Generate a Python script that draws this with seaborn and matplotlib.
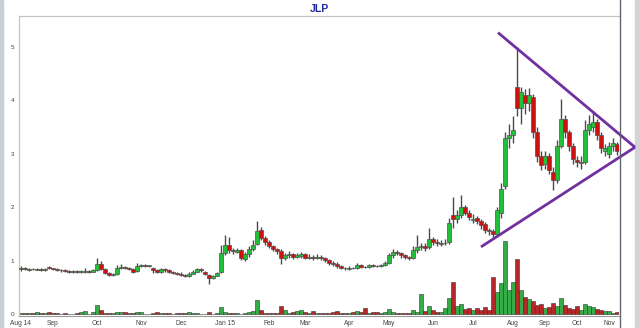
import numpy as np
import pandas as pd
import matplotlib
matplotlib.use("Agg")
import matplotlib.pyplot as plt
import seaborn as sns
from matplotlib.lines import Line2D
from matplotlib.patches import Rectangle

# ---------------- data ----------------
title = "JLP"
month_labels = ["Aug 14", "Sep", "Oct", "Nov", "Dec", "Jan 15", "Feb", "Mar",
                "Apr", "May", "Jun", "Jul", "Aug", "Sep", "Oct", "Nov"]
month_start = [0, 8, 19, 30, 40, 51, 62, 71, 82, 92, 103, 113, 123, 131, 139, 147]

opens = [
    0.84, 0.87, 0.83, 0.85, 0.83, 0.85, 0.83, 0.89, 0.86, 0.84,
    0.83, 0.82, 0.81, 0.79, 0.80, 0.79, 0.79, 0.81, 0.80, 0.83,
    0.95, 0.84, 0.77, 0.74, 0.76, 0.86, 0.89, 0.86, 0.84, 0.81,
    0.90, 0.92, 0.91, 0.86, 0.82, 0.80, 0.84, 0.82, 0.79, 0.77,
    0.76, 0.74, 0.72, 0.76, 0.80, 0.84, 0.80, 0.74, 0.68, 0.72,
    0.80, 1.15, 1.30, 1.20, 1.17, 1.20, 1.04, 1.12, 1.22, 1.32,
    1.58, 1.42, 1.35, 1.28, 1.22, 1.18, 1.05, 1.10, 1.12, 1.08,
    1.09, 1.12, 1.06, 1.08, 1.05, 1.08, 1.05, 1.02, 0.96, 0.95,
    0.90, 0.87, 0.85, 0.87, 0.86, 0.92, 0.89, 0.88, 0.92, 0.91,
    0.90, 0.92, 0.96, 1.10, 1.17, 1.14, 1.10, 1.07, 1.05, 1.20,
    1.25, 1.28, 1.25, 1.40, 1.36, 1.31, 1.33, 1.36, 1.85, 1.78,
    1.85, 2.00, 1.90, 1.76, 1.80, 1.75, 1.68, 1.57, 1.55, 1.50,
    1.90, 2.40, 3.30, 3.35, 4.25, 3.85, 4.10, 3.95, 4.05, 3.40,
    2.95, 2.80, 2.95, 2.65, 2.50, 3.15, 3.65, 3.40, 3.15, 2.88,
    2.82, 2.85, 3.45, 3.50, 3.60, 3.35, 3.05, 3.00, 3.15, 3.18,
]
closes = [
    0.86, 0.84, 0.85, 0.84, 0.85, 0.83, 0.84, 0.86, 0.84, 0.83,
    0.82, 0.81, 0.80, 0.80, 0.79, 0.80, 0.81, 0.80, 0.82, 0.95,
    0.85, 0.78, 0.74, 0.75, 0.86, 0.88, 0.86, 0.85, 0.80, 0.90,
    0.92, 0.91, 0.92, 0.82, 0.80, 0.84, 0.83, 0.80, 0.78, 0.76,
    0.74, 0.72, 0.76, 0.80, 0.84, 0.82, 0.75, 0.68, 0.72, 0.78,
    1.15, 1.30, 1.20, 1.18, 1.20, 1.05, 1.12, 1.22, 1.30, 1.55,
    1.42, 1.35, 1.28, 1.22, 1.18, 1.05, 1.10, 1.12, 1.08, 1.10,
    1.12, 1.06, 1.08, 1.05, 1.07, 1.05, 1.02, 0.96, 0.94, 0.90,
    0.86, 0.86, 0.87, 0.86, 0.92, 0.89, 0.88, 0.92, 0.91, 0.90,
    0.92, 0.96, 1.10, 1.17, 1.14, 1.10, 1.07, 1.05, 1.20, 1.25,
    1.27, 1.24, 1.40, 1.36, 1.33, 1.33, 1.34, 1.70, 1.78, 1.85,
    2.00, 1.90, 1.82, 1.78, 1.75, 1.66, 1.57, 1.55, 1.50, 1.95,
    2.35, 3.30, 3.35, 3.45, 3.85, 4.15, 3.95, 4.10, 3.40, 2.95,
    2.78, 2.95, 2.70, 2.50, 3.15, 3.65, 3.40, 3.15, 2.90, 2.85,
    2.85, 3.45, 3.55, 3.60, 3.35, 3.10, 3.10, 3.15, 3.20, 3.05,
]
highs = [
    0.90, 0.88, 0.87, 0.86, 0.87, 0.86, 0.86, 0.91, 0.87, 0.86,
    0.85, 0.84, 0.83, 0.82, 0.82, 0.82, 0.86, 0.83, 0.85, 1.05,
    0.99, 0.86, 0.80, 0.78, 0.93, 0.95, 0.91, 0.88, 0.86, 0.96,
    0.95, 0.94, 0.93, 0.88, 0.85, 0.87, 0.86, 0.84, 0.81, 0.79,
    0.79, 0.76, 0.79, 0.83, 0.87, 0.86, 0.81, 0.76, 0.74, 0.80,
    1.30, 1.48, 1.45, 1.24, 1.24, 1.22, 1.16, 1.28, 1.38, 1.74,
    1.64, 1.46, 1.38, 1.30, 1.24, 1.22, 1.15, 1.18, 1.14, 1.15,
    1.16, 1.14, 1.12, 1.10, 1.12, 1.10, 1.08, 1.04, 0.99, 0.98,
    0.92, 0.89, 0.90, 0.89, 0.96, 0.94, 0.91, 0.95, 0.94, 0.93,
    0.94, 1.00, 1.14, 1.22, 1.20, 1.17, 1.12, 1.09, 1.28, 1.48,
    1.34, 1.34, 1.61, 1.45, 1.40, 1.38, 1.40, 1.80, 2.19, 1.95,
    2.22, 2.05, 1.95, 1.88, 1.84, 1.78, 1.72, 1.62, 1.60, 2.00,
    2.45, 3.40, 3.55, 3.70, 4.99, 4.25, 4.20, 4.22, 4.12, 3.50,
    3.05, 3.05, 3.02, 2.75, 3.25, 4.03, 3.72, 3.45, 3.20, 2.95,
    2.95, 3.62, 3.72, 3.80, 3.65, 3.40, 3.18, 3.22, 3.30, 3.22,
]
lows = [
    0.81, 0.82, 0.81, 0.82, 0.82, 0.81, 0.81, 0.84, 0.82, 0.81,
    0.80, 0.79, 0.78, 0.78, 0.77, 0.78, 0.78, 0.78, 0.79, 0.81,
    0.83, 0.75, 0.72, 0.72, 0.74, 0.84, 0.84, 0.82, 0.78, 0.79,
    0.88, 0.89, 0.89, 0.78, 0.77, 0.78, 0.80, 0.78, 0.76, 0.73,
    0.72, 0.70, 0.70, 0.75, 0.79, 0.80, 0.73, 0.57, 0.66, 0.71,
    0.78, 1.10, 1.15, 1.12, 1.14, 1.02, 1.00, 1.08, 1.18, 1.30,
    1.38, 1.30, 1.24, 1.18, 1.12, 0.94, 1.02, 1.06, 1.04, 1.05,
    1.06, 1.03, 1.04, 1.02, 1.03, 1.01, 0.98, 0.93, 0.91, 0.87,
    0.84, 0.83, 0.83, 0.84, 0.84, 0.86, 0.86, 0.86, 0.88, 0.88,
    0.88, 0.90, 0.95, 1.06, 1.10, 1.06, 1.04, 1.02, 1.04, 1.15,
    1.20, 1.18, 1.22, 1.30, 1.28, 1.27, 1.29, 1.32, 1.62, 1.70,
    1.80, 1.86, 1.76, 1.70, 1.68, 1.60, 1.52, 1.48, 1.45, 1.48,
    1.80, 2.35, 3.10, 3.20, 3.70, 3.55, 3.75, 3.80, 3.30, 2.85,
    2.70, 2.72, 2.62, 2.32, 2.45, 3.10, 3.30, 3.05, 2.80, 2.75,
    2.72, 2.80, 3.35, 3.40, 3.25, 3.02, 2.95, 2.92, 3.05, 2.98,
]
volume = [
    0.02, 0.03, 0.02, 0.03, 0.04, 0.02, 0.03, 0.05, 0.03, 0.02,
    0.01, 0.02, 0.01, 0.01, 0.02, 0.04, 0.06, 0.01, 0.04, 0.17,
    0.08, 0.03, 0.03, 0.02, 0.04, 0.05, 0.05, 0.02, 0.02, 0.04,
    0.05, 0.01, 0.01, 0.02, 0.04, 0.02, 0.02, 0.02, 0.01, 0.02,
    0.02, 0.03, 0.04, 0.03, 0.02, 0.01, 0.01, 0.04, 0.01, 0.02,
    0.14, 0.05, 0.03, 0.02, 0.03, 0.01, 0.02, 0.04, 0.06, 0.26,
    0.08, 0.03, 0.02, 0.03, 0.03, 0.16, 0.08, 0.02, 0.04, 0.06,
    0.08, 0.04, 0.03, 0.06, 0.02, 0.03, 0.03, 0.02, 0.04, 0.06,
    0.03, 0.02, 0.03, 0.04, 0.06, 0.05, 0.12, 0.03, 0.05, 0.04,
    0.03, 0.05, 0.11, 0.04, 0.03, 0.02, 0.02, 0.03, 0.08, 0.05,
    0.38, 0.06, 0.16, 0.08, 0.05, 0.04, 0.12, 0.30, 0.60, 0.15,
    0.20, 0.10, 0.12, 0.08, 0.12, 0.08, 0.13, 0.08, 0.70, 0.42,
    0.58, 1.37, 0.45, 0.60, 1.03, 0.45, 0.32, 0.28, 0.25, 0.18,
    0.20, 0.12, 0.14, 0.22, 0.15, 0.30, 0.18, 0.12, 0.10, 0.15,
    0.08, 0.20, 0.16, 0.13, 0.10, 0.08, 0.07, 0.06, 0.03, 0.04,
]
# triangle trend lines (candle-index, price)
trend_upper_x = [119.25, 153.5]
trend_upper_y = [5.26, 3.12]
trend_lower_x = [115.0, 153.5]
trend_lower_y = [1.26, 3.12]

# ---------------- style ----------------
GREEN = "#22c03a"
RED = "#cc1111"
WICK = "#4a4a4a"
PURPLE = "#7030a0"
TITLE_C = "#1c2a9c"

sns.set_style("white")
plt.rcParams["font.family"] = ["Liberation Sans", "DejaVu Sans"]

o = np.array(opens); c = np.array(closes)
h = np.array(highs); l = np.array(lows)
idx = np.arange(len(o))
direction = np.where(c >= o, "up", "down")

fig = plt.figure(figsize=(6.4, 3.28), dpi=100)
ax = fig.add_axes([19 / 640, 12 / 328, 600 / 640, 300 / 328])

df = pd.DataFrame({"idx": idx, "vol": volume, "dir": direction})
sns.barplot(data=df, x="idx", y="vol", hue="dir",
            palette={"up": GREEN, "down": RED}, native_scale=True,
            dodge=False, width=0.85, errorbar=None, legend=False,
            edgecolor="#333333", linewidth=0.4, ax=ax, zorder=2)

# candles
ax.vlines(idx, l, h, color=WICK, lw=1.0, zorder=3)
body_bottom = np.minimum(o, c)
body_h = np.maximum(np.abs(c - o), 0.012)
ax.bar(idx, body_h, bottom=body_bottom, width=0.8,
       color=[GREEN if d == "up" else RED for d in direction],
       edgecolor="#505050", linewidth=0.5, zorder=4)

# trend lines (extend past the plot box)
ax.plot(trend_upper_x, trend_upper_y, color=PURPLE, lw=2, clip_on=False, zorder=6,
        solid_capstyle="butt")
ax.plot(trend_lower_x, trend_lower_y, color=PURPLE, lw=2, clip_on=False, zorder=6,
        solid_capstyle="butt")

ax.set_xlim(-0.5, len(o) - 0.5)
ax.set_ylim(-0.03, 5.57)
ax.set_yticks([0, 1, 2, 3, 4, 5])
ax.set_yticklabels(["0", "1", "2", "3", "4", "5"])
ax.set_xticks(month_start)
ax.set_xticklabels(month_labels)
ax.set_xlabel("")
ax.set_ylabel("")
ax.tick_params(axis="both", labelsize=4.6, colors="#444444", length=2, width=0.5, pad=1.2,
               direction="out")
ax.tick_params(axis="x", labelsize=4.8)

for s in ["left", "top"]:
    ax.spines[s].set_color("#c4c4c4")
    ax.spines[s].set_linewidth(0.9)
ax.spines["bottom"].set_color("#9a9a9a")
ax.spines["bottom"].set_linewidth(0.8)
ax.spines["right"].set_visible(False)

# right divider line (full height) and window borders
fig.add_artist(Line2D([619.5 / 640, 619.5 / 640], [0, 1], transform=fig.transFigure,
                      color="#5f6670", lw=1.0))
fig.add_artist(Rectangle((0, 0), 3 / 640, 1, transform=fig.transFigure,
                         color="#c9cfd7", zorder=0))
fig.add_artist(Rectangle((635 / 640, 0), 5 / 640, 1, transform=fig.transFigure,
                         color="#d2d4d8", zorder=0))

fig.text(319 / 640, 1 - 8.5 / 328, title, ha="center", va="center", fontsize=7.5,
         fontweight="bold", color=TITLE_C)

fig.savefig("out.png", dpi=100)
